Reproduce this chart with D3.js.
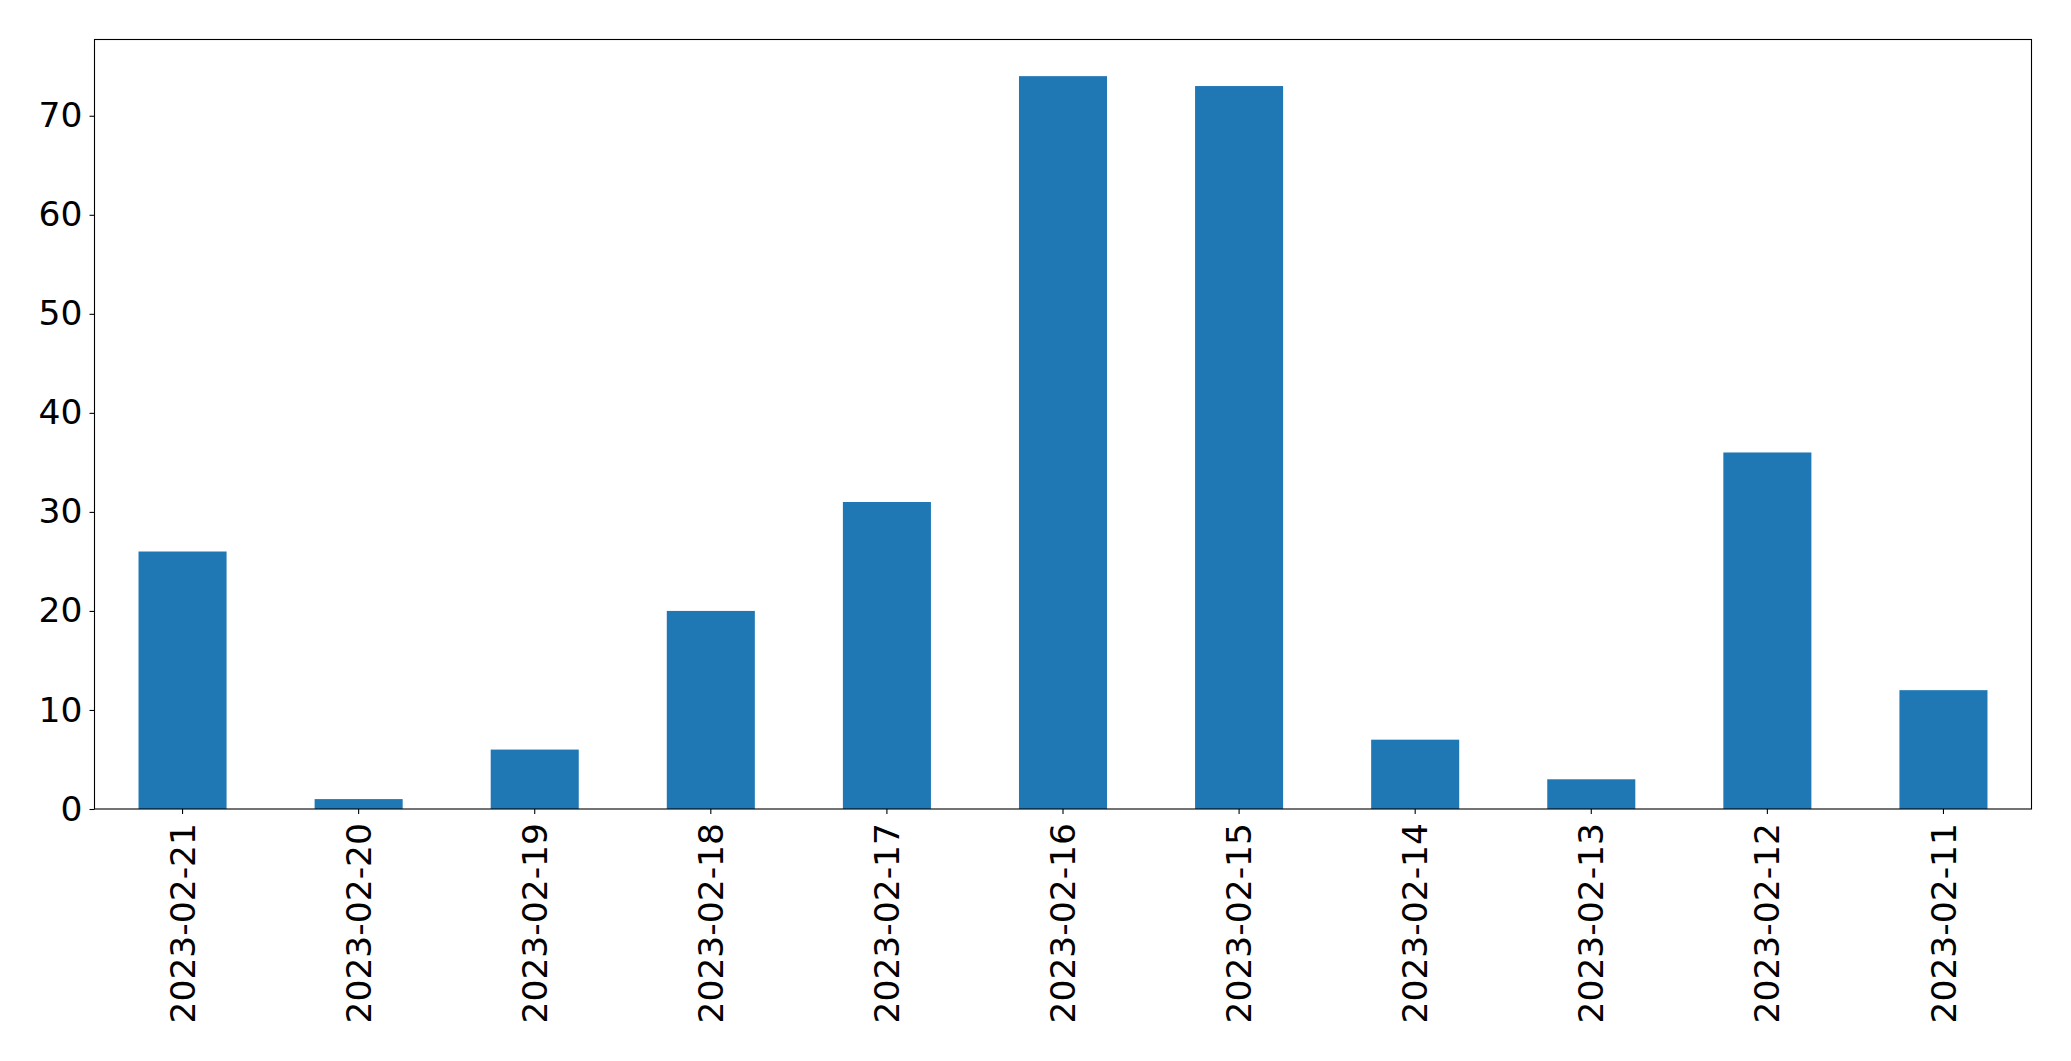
<!DOCTYPE html>
<html>
<head>
<meta charset="utf-8">
<script src="https://cdn.jsdelivr.net/npm/d3@7"></script>
<style>
  html, body { margin: 0; padding: 0; background: #fff; }
  svg { display: block; }
  text { font-family: "DejaVu Sans", sans-serif; }
</style>
</head>
<body>
<svg id="chart" width="2071" height="1061"></svg>
<script>
const categories = ["2023-02-21","2023-02-20","2023-02-19","2023-02-18","2023-02-17","2023-02-16","2023-02-15","2023-02-14","2023-02-13","2023-02-12","2023-02-11"];
const values = [26, 1, 6, 20, 31, 74, 73, 7, 3, 36, 12];
const yTicks = [0, 10, 20, 30, 40, 50, 60, 70];

const W = 2071, H = 1061;
const margin = { left: 94.5, top: 39.5, right: 39.5, bottom: 252 };
const fontSize = 34.5;
const svg = d3.select("#chart");

const x = d3.scaleBand()
  .domain(categories)
  .range([margin.left, W - margin.right])
  .paddingInner(0.5)
  .paddingOuter(0.25);

const yMax = d3.max(values) * 1.05;
const y = d3.scaleLinear()
  .domain([0, yMax])
  .range([H - margin.bottom, margin.top]);

svg.append("g")
  .selectAll("rect")
  .data(values)
  .join("rect")
  .attr("x", (d, i) => x(categories[i]))
  .attr("y", d => y(d))
  .attr("width", x.bandwidth())
  .attr("height", d => y(0) - y(d))
  .attr("fill", "#1f77b4");

// Y axis
const yAxis = svg.append("g")
  .attr("transform", `translate(${margin.left},0)`)
  .call(d3.axisLeft(y).tickValues(yTicks).tickSize(5).tickPadding(7).tickFormat(d3.format("d")));
yAxis.select(".domain").remove();
yAxis.selectAll("line").attr("stroke", "#000").attr("stroke-width", 1.1);
yAxis.selectAll("text").attr("font-size", fontSize).attr("fill", "#000")
  .attr("font-family", "DejaVu Sans, sans-serif");

// X axis
const xAxis = svg.append("g")
  .attr("transform", `translate(0,${H - margin.bottom})`)
  .call(d3.axisBottom(x).tickSize(5).tickPadding(0));
xAxis.select(".domain").remove();
xAxis.selectAll("line").attr("stroke", "#000").attr("stroke-width", 1.1);
xAxis.selectAll("text")
  .attr("font-size", fontSize)
  .attr("fill", "#000")
  .attr("font-family", "DejaVu Sans, sans-serif")
  .attr("text-anchor", "end")
  .attr("dy", "0.35em")
  .attr("transform", "translate(0,14) rotate(-90)")
  .attr("x", 0)
  .attr("y", 0);

// Frame (spines)
svg.append("rect")
  .attr("x", margin.left)
  .attr("y", margin.top)
  .attr("width", W - margin.left - margin.right)
  .attr("height", H - margin.top - margin.bottom)
  .attr("fill", "none")
  .attr("stroke", "#000")
  .attr("stroke-width", 1.1);
</script>
</body>
</html>
